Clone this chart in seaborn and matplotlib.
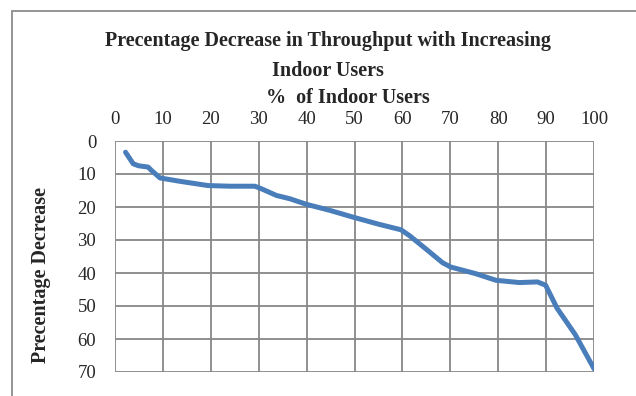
import matplotlib
matplotlib.use("Agg")
import matplotlib.pyplot as plt
import seaborn as sns
import pandas as pd
from matplotlib.patches import Rectangle

# % of indoor users and the matching % decrease in throughput
indoor_pct = [2.2, 3.8, 4.9, 6.9, 7.6, 9.4, 13.5, 19.4, 24, 29.2, 30.6, 33.7, 36.5,
              40, 44.8, 50, 55, 59.7, 61.5, 64.9, 68.4, 70.1, 75.3, 79.5, 84.4,
              88.2, 89.9, 92.3, 96.1, 100]
decrease_pct = [3.4, 6.9, 7.5, 7.9, 8.9, 11.2, 12.2, 13.5, 13.7, 13.7, 14.5, 16.5, 17.5,
                19.2, 21.0, 23.2, 25.2, 26.9, 28.7, 32.7, 36.9, 38.2, 40.2, 42.2, 42.9,
                42.7, 43.7, 50.7, 58.7, 69.0]

x_ticks = [0, 10, 20, 30, 40, 50, 60, 70, 80, 90, 100]
y_ticks = [0, 10, 20, 30, 40, 50, 60, 70]

df = pd.DataFrame({"indoor": indoor_pct, "decrease": decrease_pct})

sns.set_style("white")
plt.rcParams["font.family"] = ["Liberation Serif", "DejaVu Serif"]

W, H = 636, 396
fig = plt.figure(figsize=(W / 100, H / 100), dpi=100)
ax = fig.add_axes([115 / W, 1 - 372 / H, (594 - 115) / W, (372 - 141) / H])

grid_col = "#878787"
for v in x_ticks:
    ax.axvline(v, color=grid_col, lw=1.3, zorder=1)
for v in y_ticks:
    ax.axhline(v, color=grid_col, lw=1.3, zorder=1)

sns.lineplot(data=df, x="indoor", y="decrease", ax=ax, color="#4a7ebb",
             lw=3.6, zorder=3, solid_capstyle="round", solid_joinstyle="round")

ax.set_xlim(0, 100)
ax.set_ylim(70, 0)
ax.xaxis.tick_top()
ax.set_xticks(x_ticks)
ax.set_yticks(y_ticks)
ax.tick_params(axis="both", length=0, labelsize=13.5)
ax.tick_params(axis="x", pad=9)
ax.tick_params(axis="y", pad=13.5)
ax.set_xlabel("")
ax.set_ylabel("")
for s in ax.spines.values():
    s.set_visible(False)

# chart frame
fig.patches.append(Rectangle((12 / W, -0.1), 1.2, 1 - 10.5 / H + 0.1,
                             transform=fig.transFigure, fill=False,
                             edgecolor="#8c8c8c", lw=1.3))

fs = 14.5
fig.text(328 / W, 1 - 45.7 / H, "Precentage Decrease in Throughput with Increasing",
         ha="center", va="baseline", fontsize=fs, fontweight="bold")
fig.text(328 / W, 1 - 75.7 / H, "Indoor Users",
         ha="center", va="baseline", fontsize=fs, fontweight="bold")
fig.text(348 / W, 1 - 103 / H, "%  of Indoor Users",
         ha="center", va="baseline", fontsize=fs, fontweight="bold")
fig.text(41 / W, 1 - 275 / H, "Precentage Decrease", rotation=90,
         ha="center", va="center", fontsize=fs, fontweight="bold")

fig.savefig("out.png", dpi=100)
